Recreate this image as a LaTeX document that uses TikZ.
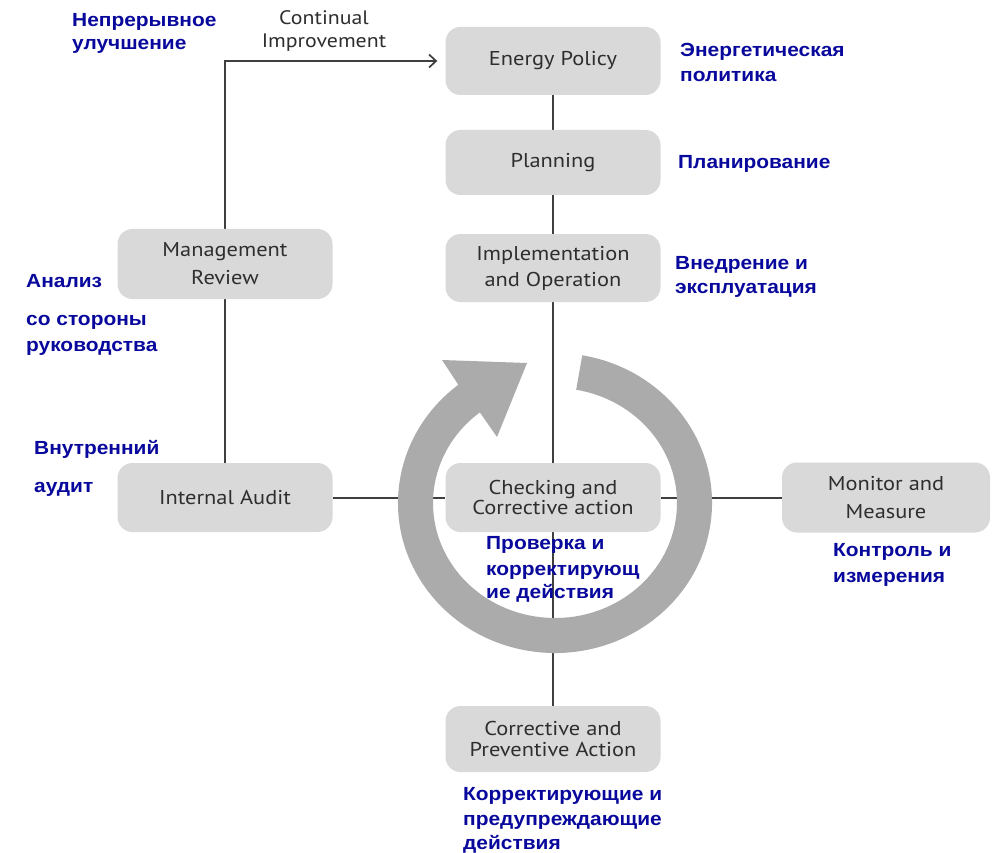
\documentclass[tikz,border=0pt]{standalone}
\usepackage{fontspec}
\setmainfont{Liberation Sans}
\newfontfamily\rufont[FakeStretch=1.1]{Liberation Sans}
\newfontfamily\enfont[FakeStretch=1.12]{PT Sans}
\usetikzlibrary{arrows.meta,calc}
\pgfdeclarelayer{bg}
\pgfsetlayers{bg,main}
\definecolor{boxgray}{HTML}{D9D9D9}
\definecolor{ringgray}{HTML}{ABABAB}
\definecolor{linegray}{HTML}{3F3F3F}
\definecolor{boxtext}{HTML}{2E2E2E}
\definecolor{rublue}{HTML}{08089C}
\begin{document}
\begin{tikzpicture}[x=1pt,y=1pt,
  box/.style={fill=boxgray, rounded corners=15pt, minimum width=215pt, minimum height=68pt, inner sep=0pt, align=center, text=boxtext, font=\enfont\fontsize{20}{26}\selectfont},
  rulabel/.style={anchor=base west, inner sep=0pt, text=rublue, font=\rufont\bfseries\fontsize{19}{23}\selectfont},
  enlabel/.style={anchor=base, inner sep=0pt, text=boxtext, font=\enfont\fontsize{19.5}{21}\selectfont},
  conn/.style={draw=linegray, line width=2pt},
]
\useasboundingbox (0,0) rectangle (993,-853);

% boxes
\node[box] (ep) at (553,-61) {Energy Policy};
\node[box, minimum height=65pt] (pl) at (553,-162.5) {Planning};
\node[box] (impl) at (553,-268) {Implementation\\and Operation};
\node[box, minimum height=70pt, font=\enfont\fontsize{20}{28}\selectfont] (mr) at (225,-264) {Management\\Review};
\node[box, minimum height=69pt] (ia) at (225,-497.5) {Internal Audit};
\node[box, minimum height=69pt, font=\enfont\fontsize{20}{18}\selectfont] (chk) at (553,-497.5) {Checking and\\Corrective action};
\node[box, minimum width=208pt, minimum height=70pt, font=\enfont\fontsize{20}{28}\selectfont] (mm) at (886,-497.5) {Monitor and\\Measure};
\node[box, minimum height=66pt, font=\enfont\fontsize{20}{21}\selectfont] (cpa) at (553,-739) {Corrective and\\Preventive Action};

% connectors and ring behind the boxes
\begin{pgfonlayer}{bg}
\fill[white] (0,0) rectangle (993,-853);
\draw[conn] (ep) -- (pl);
\draw[conn] (pl) -- (impl);
\draw[conn] (impl) -- (chk);
\draw[conn] (chk) -- (cpa);
\draw[conn] (mr) -- (ia);
\draw[conn] (ia) -- (chk);
\draw[conn] (chk) -- (mm);
\draw[conn, -{Straight Barb[length=7pt,width=13pt,line width=1.7pt]}, shorten >=8pt] (mr.north) |- (ep.west);
\coordinate (rc) at (555,-503);
\fill[ringgray] ($(rc)+(80:157 and 150)$)
  arc[start angle=80, end angle=-232, x radius=157, y radius=150]
  -- (442,-360) -- (527,-363) -- (497,-437)
  -- ($(rc)+(128:122 and 115)$)
  arc[start angle=128, end angle=440, x radius=122, y radius=115]
  -- cycle;
\end{pgfonlayer}

% English annotation
\node[enlabel] (ci1) at (324,-25) {Continual};
\node[enlabel] (ci2) at (324,-48) {Improvement};

% Russian labels
\node[rulabel] (r1a) at (72,-26.5) {Непрерывное};
\node[rulabel] (r1b) at (72,-50) {улучшение};
\node[rulabel] (r2a) at (680,-57) {Энергетическая};
\node[rulabel] (r2b) at (680,-82) {политика};
\node[rulabel] (r3) at (678,-169) {Планирование};
\node[rulabel] (r4a) at (675,-269) {Внедрение и};
\node[rulabel] (r4b) at (675,-293) {эксплуатация};
\node[rulabel] (r5a) at (26,-287) {Анализ};
\node[rulabel] (r5b) at (26,-325) {со стороны};
\node[rulabel] (r5c) at (26,-351) {руководства};
\node[rulabel] (r6a) at (34,-454) {Внутренний};
\node[rulabel] (r6b) at (34,-492) {аудит};
\node[rulabel] (r7a) at (486,-549) {Проверка и};
\node[rulabel] (r7b) at (486,-575) {корректирующ};
\node[rulabel] (r7c) at (486,-598) {ие действия};
\node[rulabel] (r8a) at (833,-556) {Контроль и};
\node[rulabel] (r8b) at (833,-582) {измерения};
\node[rulabel] (r9a) at (463,-800) {Корректирующие и};
\node[rulabel] (r9b) at (463,-825) {предупреждающие};
\node[rulabel] (r9c) at (463,-849) {действия};
\end{tikzpicture}
\end{document}
